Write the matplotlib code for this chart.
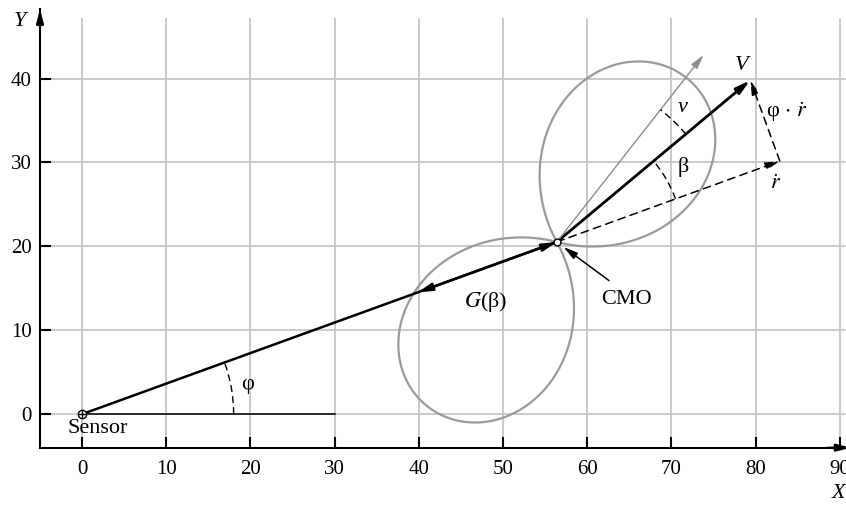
import numpy as np
import matplotlib.pyplot as plt
from matplotlib.patches import Arc

plt.rcParams['font.family'] = ['Liberation Serif', 'DejaVu Serif']
plt.rcParams['mathtext.fontset'] = 'stix'

# === chart values ===
x_ticks = [0, 10, 20, 30, 40, 50, 60, 70, 80, 90]
y_ticks = [0, 10, 20, 30, 40]

sensor = np.array([0.0, 0.0])
cmo_range = 60.0        # distance sensor -> CMO
phi_deg = 20.0          # bearing of CMO
v_speed = 30.0          # |V|
v_heading_deg = 40.0    # direction of V
nu_dir_deg = 52.0       # antenna pattern axis
nu_len = 28.3
gain_len = 17.6         # G(beta) arrow length
baseline_len = 30.0
lobe_size = 24.9
lobe_squeeze = 1.35     # lobe opening = 180 / squeeze degrees
phi_arc_r, beta_arc_r, nu_arc_r = 18.0, 15.0, 20.0


def unit(deg):
    a = np.radians(deg)
    return np.array([np.cos(a), np.sin(a)])


cmo = sensor + cmo_range * unit(phi_deg)
v_tip = cmo + v_speed * unit(v_heading_deg)
beta_deg = v_heading_deg - phi_deg
rdot_tip = cmo + v_speed * np.cos(np.radians(beta_deg)) * unit(phi_deg)
nu_tip = cmo + nu_len * unit(nu_dir_deg)
gain_tip = cmo - gain_len * unit(phi_deg)

fig = plt.figure(figsize=(8.46, 5.05), dpi=100)
ax = fig.add_axes([40 / 846, 57.3 / 505, 806 / 846, 438.7 / 505])
ax.set_xlim(-5, 90.73)
ax.set_ylim(-4, 48.29)

for s in ['top', 'right']:
    ax.spines[s].set_visible(False)
for s in ['left', 'bottom']:
    ax.spines[s].set_linewidth(1.5)

ax.set_xticks(x_ticks)
ax.set_yticks(y_ticks)
ax.tick_params(direction='in', length=8, width=1.5, labelsize=15)
ax.tick_params(axis='x', pad=9)
ax.tick_params(axis='y', pad=6)

# grid
grid_c = '#c6c6c6'
ax.vlines(x_ticks, -4, 47.2, color=grid_c, lw=1.3, zorder=0)
ax.hlines(y_ticks, -5, 90.73, color=grid_c, lw=1.3, zorder=0)

# axis arrows
head = '-|>,head_length=0.85,head_width=0.22'
ax.annotate('', xy=(-5, 48.3), xytext=(-5, 46.0), annotation_clip=False,
            arrowprops=dict(arrowstyle=head, color='k', lw=1.5,
                            shrinkA=0, shrinkB=0, mutation_scale=10))
ax.annotate('', xy=(91.3, -4), xytext=(88.5, -4), annotation_clip=False,
            arrowprops=dict(arrowstyle=head, color='k', lw=1.5,
                            shrinkA=0, shrinkB=0, mutation_scale=10))
ax.text(-7.4, 46.8, 'Y', fontsize=16, style='italic', ha='center', va='center')
ax.text(89.8, -9.4, 'X', fontsize=16, style='italic', ha='center', va='center')

# antenna lobes
half_open = np.pi / 2 / lobe_squeeze
t = np.linspace(-half_open, half_open, 300)
r = lobe_size * np.cos(lobe_squeeze * t)
for axis_deg in (nu_dir_deg, nu_dir_deg + 180):
    ang = np.radians(axis_deg) + t
    ax.plot(cmo[0] + r * np.cos(ang), cmo[1] + r * np.sin(ang),
            color='#9a9a9a', lw=1.6, zorder=2)

# baseline
ax.plot([sensor[0], sensor[0] + baseline_len], [sensor[1], sensor[1]],
        color='k', lw=1.1, zorder=3)


def arrow(start, end, color='k', lw=1.8, ls='-'):
    ax.annotate('', xy=tuple(end), xytext=tuple(start),
                arrowprops=dict(arrowstyle=head, color=color, lw=lw, ls=ls,
                                shrinkA=0, shrinkB=0, mutation_scale=10),
                zorder=4)


arrow(sensor, cmo)
arrow(cmo, gain_tip)
arrow(cmo, v_tip, lw=2.0)
arrow(cmo, nu_tip, color='#8c8c8c', lw=1.0)
arrow(cmo, rdot_tip, lw=1.1, ls=(0, (5, 3.5)))
arrow(rdot_tip, v_tip, lw=1.1, ls=(0, (5, 3.5)))
arrow(cmo + np.array([6.2, -4.6]), cmo + np.array([0.8, -0.6]), lw=1.1)

# angle arcs
arc_kw = dict(color='k', lw=1.0, ls=(0, (5, 3)), zorder=4)
ax.add_patch(Arc(tuple(sensor), 2 * phi_arc_r, 2 * phi_arc_r,
                 theta1=0, theta2=phi_deg, **arc_kw))
ax.add_patch(Arc(tuple(cmo), 2 * beta_arc_r, 2 * beta_arc_r,
                 theta1=phi_deg, theta2=v_heading_deg, **arc_kw))
ax.add_patch(Arc(tuple(cmo), 2 * nu_arc_r, 2 * nu_arc_r,
                 theta1=v_heading_deg, theta2=nu_dir_deg, **arc_kw))

# markers
ax.plot(*sensor, marker='o', ms=6, mfc='white', mec='k', mew=1.0, zorder=6)
ax.plot(*sensor, marker='+', ms=6, color='k', mew=1.0, zorder=7)
ax.plot(*cmo, marker='o', ms=5, mfc='white', mec='k', mew=1.0, zorder=6)

# labels
fs = 16
ax.text(1.84, -1.7, 'Sensor', fontsize=fs, ha='center', va='center')
ax.text(19.7, 3.5, 'φ', fontsize=fs, ha='center', va='center')
ax.text(71.4, 29.5, 'β', fontsize=fs, ha='center', va='center')
ax.text(71.3, 36.6, 'ν', fontsize=fs, style='italic', ha='center', va='center')
ax.text(78.3, 41.6, 'V', fontsize=fs, style='italic', ha='center', va='center')
ax.text(82.4, 27.4, r'$\dot{r}$', fontsize=fs, ha='center', va='center')
ax.text(83.7, 36.0, r'φ $\cdot$ $\dot{r}$', fontsize=fs, ha='center', va='center')
ax.text(47.9, 13.4, r'$G$(β)', fontsize=fs, ha='center', va='center')
ax.text(64.7, 13.7, 'CMO', fontsize=fs, ha='center', va='center')

fig.savefig('out.png', dpi=100)
